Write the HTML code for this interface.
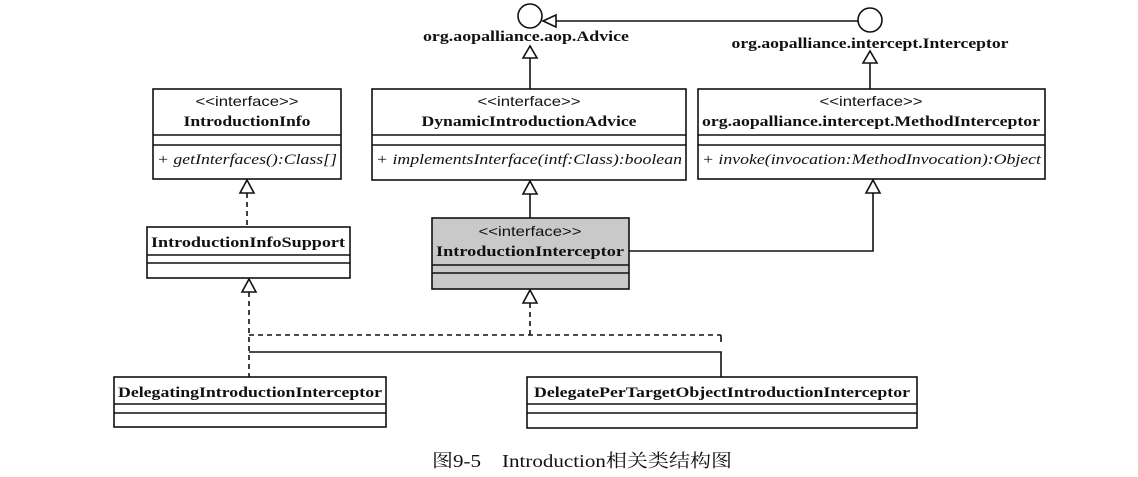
<!DOCTYPE html>
<html><head><meta charset="utf-8"><style>
html,body{margin:0;padding:0;background:#fff;}
svg{display:block}
.b{font-family:"Liberation Serif",serif;font-weight:bold;font-size:15px;fill:#111}
.s{font-family:"Liberation Sans",sans-serif;font-size:14px;fill:#111}
.i{font-family:"Liberation Serif",serif;font-style:italic;font-size:15px;fill:#111}
.c{font-family:"Liberation Serif","Noto Serif CJK SC",serif;font-size:18px;fill:#111}
</style></head><body>
<svg width="1138" height="477" viewBox="0 0 1138 477" xmlns="http://www.w3.org/2000/svg">
<g stroke="#111" stroke-width="1.6" fill="none">
<circle cx="530" cy="16" r="12" fill="#fff"/>
<circle cx="870" cy="20" r="12" fill="#fff"/>
<line x1="556" y1="21" x2="858" y2="21"/>
<polygon points="543,21 556,15 556,27" fill="#fff"/>
<line x1="530" y1="58" x2="530" y2="89"/>
<polygon points="530,46 523,58 537,58" fill="#fff"/>
<line x1="870" y1="63" x2="870" y2="89"/>
<polygon points="870,51 863,63 877,63" fill="#fff"/>
<rect x="153" y="89" width="188" height="90" fill="#fff"/>
<line x1="153" y1="135" x2="341" y2="135"/><line x1="153" y1="145" x2="341" y2="145"/>
<rect x="372" y="89" width="314" height="91" fill="#fff"/>
<line x1="372" y1="135" x2="686" y2="135"/><line x1="372" y1="145" x2="686" y2="145"/>
<rect x="698" y="89" width="347" height="90" fill="#fff"/>
<line x1="698" y1="135" x2="1045" y2="135"/><line x1="698" y1="145" x2="1045" y2="145"/>
<rect x="147" y="227" width="203" height="51" fill="#fff"/>
<line x1="147" y1="255" x2="350" y2="255"/><line x1="147" y1="263" x2="350" y2="263"/>
<rect x="432" y="218" width="197" height="71" fill="#c9c9c9"/>
<line x1="432" y1="265" x2="629" y2="265"/><line x1="432" y1="273" x2="629" y2="273"/>
<rect x="114" y="377" width="272" height="50" fill="#fff"/>
<line x1="114" y1="404" x2="386" y2="404"/><line x1="114" y1="413" x2="386" y2="413"/>
<rect x="527" y="377" width="390" height="51" fill="#fff"/>
<line x1="527" y1="404" x2="917" y2="404"/><line x1="527" y1="413" x2="917" y2="413"/>
<line x1="247" y1="193" x2="247" y2="227" stroke-dasharray="5,4"/>
<polygon points="247,180 240,193 254,193" fill="#fff"/>
<line x1="530" y1="194" x2="530" y2="218"/>
<polygon points="530,181 523,194 537,194" fill="#fff"/>
<polyline points="629,251 873,251 873,193"/>
<polygon points="873,180 866,193 880,193" fill="#fff"/>
<line x1="249" y1="292" x2="249" y2="377" stroke-dasharray="5,4"/>
<polygon points="249,279 242,292 256,292" fill="#fff"/>
<polyline points="530,303 530,335" stroke-dasharray="5,4"/>
<polygon points="530,290 523,303 537,303" fill="#fff"/>
<line x1="249" y1="335" x2="721" y2="335" stroke-dasharray="5,4"/>
<line x1="721" y1="335" x2="721" y2="342"/>
<polyline points="249,352 721,352 721,377"/>
</g>
<text class="s" x="247" y="106" text-anchor="middle" textLength="103" lengthAdjust="spacingAndGlyphs">&lt;&lt;interface&gt;&gt;</text>
<text class="b" x="247" y="126" text-anchor="middle" textLength="127" lengthAdjust="spacingAndGlyphs">IntroductionInfo</text>
<text class="i" x="157" y="164" textLength="180" lengthAdjust="spacingAndGlyphs">+ getInterfaces():Class[]</text>
<text class="s" x="529" y="106" text-anchor="middle" textLength="103" lengthAdjust="spacingAndGlyphs">&lt;&lt;interface&gt;&gt;</text>
<text class="b" x="529" y="126" text-anchor="middle" textLength="215" lengthAdjust="spacingAndGlyphs">DynamicIntroductionAdvice</text>
<text class="i" x="376" y="164" textLength="306" lengthAdjust="spacingAndGlyphs">+ implementsInterface(intf:Class):boolean</text>
<text class="s" x="871" y="106" text-anchor="middle" textLength="103" lengthAdjust="spacingAndGlyphs">&lt;&lt;interface&gt;&gt;</text>
<text class="b" x="871" y="126" text-anchor="middle" textLength="338" lengthAdjust="spacingAndGlyphs">org.aopalliance.intercept.MethodInterceptor</text>
<text class="i" x="702" y="164" textLength="339" lengthAdjust="spacingAndGlyphs">+ invoke(invocation:MethodInvocation):Object</text>
<text class="b" x="248" y="247" text-anchor="middle" textLength="194" lengthAdjust="spacingAndGlyphs">IntroductionInfoSupport</text>
<text class="s" x="530" y="236" text-anchor="middle" textLength="103" lengthAdjust="spacingAndGlyphs">&lt;&lt;interface&gt;&gt;</text>
<text class="b" x="530" y="256" text-anchor="middle" textLength="188" lengthAdjust="spacingAndGlyphs">IntroductionInterceptor</text>
<text class="b" x="526" y="41" text-anchor="middle" textLength="206" lengthAdjust="spacingAndGlyphs">org.aopalliance.aop.Advice</text>
<text class="b" x="870" y="48" text-anchor="middle" textLength="277" lengthAdjust="spacingAndGlyphs">org.aopalliance.intercept.Interceptor</text>
<text class="b" x="250" y="397" text-anchor="middle" textLength="264" lengthAdjust="spacingAndGlyphs">DelegatingIntroductionInterceptor</text>
<text class="b" x="722" y="397" text-anchor="middle" textLength="376" lengthAdjust="spacingAndGlyphs">DelegatePerTargetObjectIntroductionInterceptor</text>
<text class="c" x="582" y="467" text-anchor="middle" textLength="300" lengthAdjust="spacingAndGlyphs">图9-5　Introduction相关类结构图</text>
</svg>
</body></html>
